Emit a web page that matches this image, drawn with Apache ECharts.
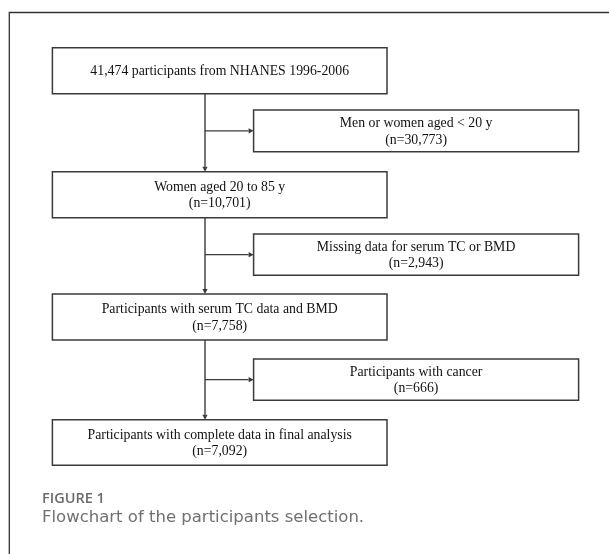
<!DOCTYPE html>
<html>
<head>
<meta charset="utf-8">
<script src="https://cdn.jsdelivr.net/npm/echarts@6/dist/echarts.min.js"></script>
<style>
html,body{margin:0;padding:0;background:#fff;}
#chart{width:609px;height:554px;}
</style>
</head>
<body>
<div id="chart"></div>
<script>
// ---- Data (flow steps) ----
const mainSteps = [
  "41,474 participants from NHANES 1996-2006",
  "Women aged 20 to 85 y\n(n=10,701)",
  "Participants with serum TC data and BMD\n(n=7,758)",
  "Participants with complete data in final analysis\n(n=7,092)"
];
const excludedSteps = [
  "Men or women aged < 20 y\n(n=30,773)",
  "Missing data for serum TC or BMD\n(n=2,943)",
  "Participants with cancer\n(n=666)"
];
const figureLabel = "FIGURE 1";
const figureCaption = "Flowchart of the participants selection.";

// ---- Layout (page units) ----
const W = 609, H = 554;
const mainCol = [52.4, 387];
const sideCol = [253.6, 578.6];
const spineX = 205;
const mainRows = [[47.7, 93.7], [171.7, 217.7], [294, 340], [419.7, 465.3]];
const sideRows = [[110, 151.7], [234, 275.3], [359, 400.3]];

const boxData = [];
const boxText = [];
mainSteps.forEach((t, i) => { boxData.push([mainCol[0], mainRows[i][0], mainCol[1], mainRows[i][1]]); boxText.push(t); });
excludedSteps.forEach((t, i) => { boxData.push([sideCol[0], sideRows[i][0], sideCol[1], sideRows[i][1]]); boxText.push(t); });

const arrowData = [];
for (let i = 0; i < mainSteps.length - 1; i++) {
  arrowData.push([spineX, mainRows[i][1], spineX, mainRows[i + 1][0]]);
}
excludedSteps.forEach((t, i) => {
  const ym = (sideRows[i][0] + sideRows[i][1]) / 2;
  arrowData.push([spineX, ym, sideCol[0], ym]);
});

const STROKE = '#3a3a3a';
const chart = echarts.init(document.getElementById('chart'), null, { renderer: 'canvas' });
chart.setOption({
  animation: false,
  backgroundColor: '#fff',
  title: {
    text: figureLabel,
    subtext: figureCaption,
    left: 42,
    top: 491,
    itemGap: 3.5,
    padding: 0,
    textStyle: { fontFamily: 'Open Sans', fontWeight: 600, fontSize: 14.5, color: '#6b6b6b' },
    subtextStyle: { fontFamily: 'DejaVu Sans', fontWeight: 'normal', fontSize: 16.5, color: '#707070' }
  },
  grid: { left: 0, right: 0, top: 0, bottom: 0, containLabel: false },
  xAxis: { type: 'value', min: 0, max: W, show: false },
  yAxis: { type: 'value', min: 0, max: H, inverse: true, show: false },
  graphic: [{
    type: 'polyline',
    shape: { points: [[9.3, H], [9.3, 12.5], [W, 12.5]] },
    style: { stroke: '#333', lineWidth: 1.3, fill: null },
    silent: true
  }],
  series: [
    {
      type: 'custom',
      coordinateSystem: 'cartesian2d',
      data: arrowData,
      silent: true,
      renderItem: function (params, api) {
        const a = api.coord([api.value(0), api.value(1)]);
        const b = api.coord([api.value(2), api.value(3)]);
        const dx = b[0] - a[0], dy = b[1] - a[1];
        const len = Math.sqrt(dx * dx + dy * dy);
        const ux = dx / len, uy = dy / len;
        const hl = 5, hw = 2.6;
        const base = [b[0] - ux * hl, b[1] - uy * hl];
        return {
          type: 'group',
          children: [
            { type: 'line', shape: { x1: a[0], y1: a[1], x2: base[0], y2: base[1] }, style: { stroke: STROKE, lineWidth: 1.4 } },
            { type: 'polygon', shape: { points: [[b[0], b[1]], [base[0] - uy * hw, base[1] + ux * hw], [base[0] + uy * hw, base[1] - ux * hw]] }, style: { fill: STROKE } }
          ]
        };
      }
    },
    {
      type: 'custom',
      coordinateSystem: 'cartesian2d',
      data: boxData,
      silent: true,
      renderItem: function (params, api) {
        const p0 = api.coord([api.value(0), api.value(1)]);
        const p1 = api.coord([api.value(2), api.value(3)]);
        return {
          type: 'group',
          children: [
            { type: 'rect', shape: { x: p0[0], y: p0[1], width: p1[0] - p0[0], height: p1[1] - p0[1] }, style: { fill: '#fff', stroke: STROKE, lineWidth: 1.5 } },
            { type: 'text', style: { text: boxText[params.dataIndex], x: (p0[0] + p1[0]) / 2, y: (p0[1] + p1[1]) / 2 + 0.8, align: 'center', verticalAlign: 'middle', fontFamily: 'Liberation Serif', fontSize: 13.8, lineHeight: 16.7, fill: '#111' } }
          ]
        };
      }
    }
  ]
});
</script>
</body>
</html>
